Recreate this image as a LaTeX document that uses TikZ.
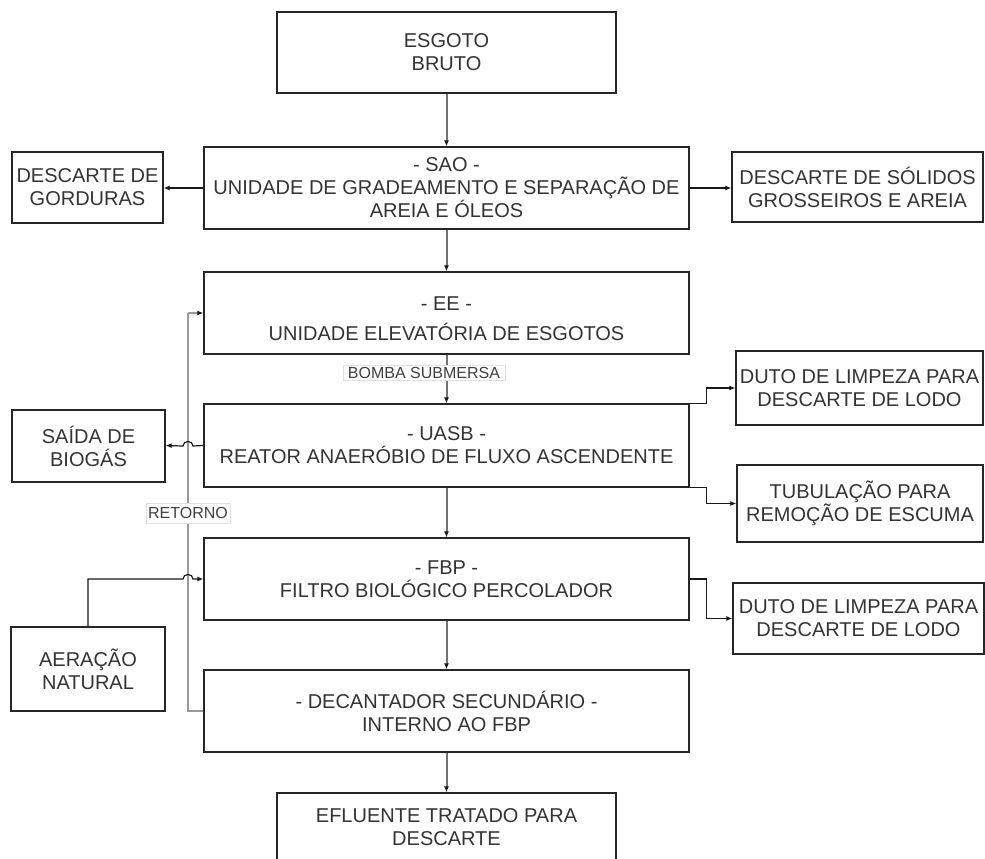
\documentclass[tikz,border=0pt]{standalone}
\usepackage{fontspec}
\setmainfont{Liberation Sans}
\usetikzlibrary{arrows.meta,positioning}
\tikzset{
	bloco/.style={draw=black!85,line width=1.3pt,align=center,text=black!80,inner sep=1pt,font=\fontsize{20}{23}\selectfont},
	rotulo/.style={fill=white,draw=black!12,line width=0.6pt,inner sep=2pt,text=black!75,font=\fontsize{16}{18}\selectfont},
	fluxo/.style={->,draw=black!55,line width=2pt},
	ligacao/.style={->,draw=black!90,line width=1.2pt},
	volta/.style={draw=black!40,line width=2.6pt}
}
\begin{document}
\begin{tikzpicture}[x=1pt,y=-1pt,>={Latex[length=6pt,width=5pt,color=black!90]}]
	\useasboundingbox (0,0) rectangle (985,859);
	\clip (0,0) rectangle (985,859);
	\node[bloco,minimum width=339,minimum height=81] (bruto) at (446.5,52.5) {ESGOTO\\BRUTO};
	\node[bloco,minimum width=485,minimum height=82] (sao) at (446.5,188) {- SAO -\\UNIDADE DE GRADEAMENTO E SEPARAÇÃO DE\\AREIA E ÓLEOS};
	\node[bloco,minimum width=151,minimum height=71] (gord) at (87.5,187.5) {DESCARTE DE\\GORDURAS};
	\node[bloco,minimum width=251,minimum height=70] (solidos) at (857.5,187) {DESCARTE DE SÓLIDOS\\GROSSEIROS E AREIA};
	\node[bloco,minimum width=485,minimum height=82] (ee) at (446.5,313) {\rule{0pt}{26pt}- EE -\\[7pt]UNIDADE ELEVATÓRIA DE ESGOTOS};
	\node[bloco,minimum width=485,minimum height=83] (uasb) at (446.5,445.5) {- UASB -\\REATOR ANAERÓBIO DE FLUXO ASCENDENTE};
	\node[bloco,minimum width=153,minimum height=72] (biogas) at (88.5,446) {SAÍDA DE\\BIOGÁS};
	\node[bloco,minimum width=247,minimum height=74] (lodoA) at (859.5,388) {DUTO DE LIMPEZA PARA\\DESCARTE DE LODO};
	\node[bloco,minimum width=246,minimum height=77] (escuma) at (860,503.5) {TUBULAÇÃO PARA\\REMOÇÃO DE ESCUMA};
	\node[bloco,minimum width=485,minimum height=82] (fbp) at (446.5,579) {- FBP -\\FILTRO BIOLÓGICO PERCOLADOR};
	\node[bloco,minimum width=251,minimum height=71] (lodoB) at (858.5,618.5) {DUTO DE LIMPEZA PARA\\DESCARTE DE LODO};
	\node[bloco,minimum width=154,minimum height=84] (aer) at (88,669) {AERAÇÃO\\NATURAL};
	\node[bloco,minimum width=485,minimum height=82] (dec) at (446.5,711) {- DECANTADOR SECUNDÁRIO -\\INTERNO AO FBP};
	\node[bloco,minimum width=339,minimum height=68] (efl) at (446.5,827) {EFLUENTE TRATADO PARA\\DESCARTE};
	\draw[fluxo] (bruto.south) -- (sao.north);
	\draw[fluxo] (sao.south) -- (ee.north);
	\draw[fluxo] (ee.south) -- (uasb.north);
	\draw[fluxo] (uasb.south) -- (fbp.north);
	\draw[fluxo] (fbp.south) -- (dec.north);
	\draw[fluxo] (dec.south) -- (efl.north);
	\draw[ligacao] (sao.west) -- (sao.west -| gord.east);
	\draw[ligacao] (sao.east) -- (sao.east -| solidos.west);
	\draw[ligacao] (uasb.north east) -- ++(17,0) |- (lodoA.west);
	\draw[ligacao] (uasb.south east) -- ++(17,0) |- (escuma.west);
	\draw[ligacao] (fbp.east) -- ++(17,0) |- (lodoB.west);
	\coordinate (retB) at (188,711);
	\coordinate (retA) at (188,313);
	\draw[volta] (dec.west) -- (retB) -- (retA);
	\draw[volta,->] (retA) -- (ee.west);
	\draw[ligacao] (uasb.west) -- (193,446) .. controls +(0,-6) and +(0,-6) .. (183,446) -- (uasb.west -| biogas.east);
	\draw[ligacao] (aer.north) -- (aer.north |- fbp.west) -- (183,579) .. controls +(0,-6) and +(0,-6) .. (193,579) -- (fbp.west);
	\node[rotulo,minimum height=20] (ret) at (188,513) {RETORNO};
	\node[rotulo,minimum width=162] (bomba) at (424,373) {BOMBA SUBMERSA};
\end{tikzpicture}
\end{document}
